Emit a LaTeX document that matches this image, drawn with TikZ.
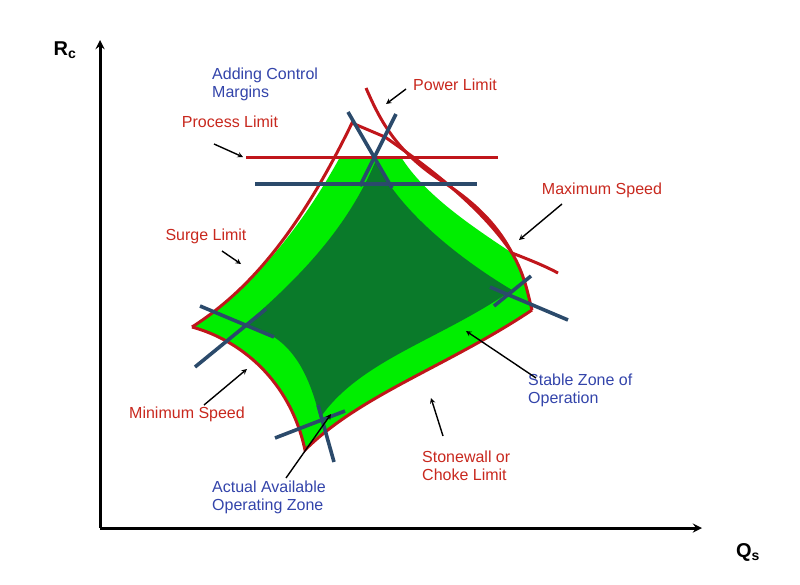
\documentclass[tikz,border=0pt]{standalone}
\usepackage{fontspec}
\setmainfont{Liberation Sans}
\usetikzlibrary{arrows}
\definecolor{limitred}{HTML}{C0161B}
\definecolor{notered}{HTML}{C8281E}
\definecolor{noteblue}{HTML}{3344AA}
\definecolor{marginblue}{HTML}{2B4A6B}
\definecolor{lightzone}{HTML}{00EE00}
\definecolor{darkzone}{HTML}{0A7A2A}
\begin{document}
\begin{tikzpicture}[x=1pt,y=-1pt,>=stealth,
    redlabel/.style={text=notered,font=\fontsize{16}{18}\selectfont,align=left},
    bluelabel/.style={text=noteblue,font=\fontsize{16}{18}\selectfont,align=left},
    limit/.style={draw=limitred,line width=3pt},
    margin/.style={draw=marginblue,line width=3.6pt},
    pointer/.style={->,line width=1.4pt,black}]
  \useasboundingbox (0,0) rectangle (800,584);
  % axes
  \coordinate (O) at (100,528);
  \coordinate (ytop) at (100,40);
  \coordinate (xend) at (702,528);
  \draw[->,line width=3pt] (O) -- (ytop);
  \draw[->,line width=3pt] (O) -- (xend);
  \node (Rc) at (65,50) {\fontsize{20}{22}\selectfont\bfseries R\textsubscript{c}};
  \node (Qs) at (748,552) {\fontsize{20}{22}\selectfont\bfseries Q\textsubscript{s}};
  % zones
  \fill[lightzone] (340,157) -- (401,157) .. controls (425,195) and (470,225) .. (512,253)
    .. controls (525,275) and (528,295) .. (532,310)
    .. controls (450,365) and (360,395) .. (305,450)
    .. controls (290,380) and (240,340) .. (192,327)
    .. controls (250,290) and (300,230) .. cycle;
  \fill[darkzone] (376,160) .. controls (392,200) and (445,250) .. (512,290)
    .. controls (440,340) and (360,360) .. (320,418)
    .. controls (308,370) and (290,335) .. (245,325)
    .. controls (290,285) and (345,235) .. cycle;
  % red outline
  \draw[limit] (192,327) .. controls (250,290) and (300,230) .. (352,123)
    -- (385,137) .. controls (425,165) and (480,205) .. (512,253)
    .. controls (525,275) and (528,295) .. (532,310);
  \draw[limit] (532,310) .. controls (450,365) and (360,395) .. (305,450)
    .. controls (290,380) and (240,340) .. (192,327);
  \draw[limit] (246,157) -- (498,157);
  \draw[limit] (366,88) .. controls (380,120) and (395,150) .. (440,180)
    .. controls (480,205) and (500,230) .. (512,253)
    .. controls (530,260) and (545,266) .. (558,273);
  % control margins
  \draw[margin] (255,184) -- (477,184);
  \draw[margin] (348,112) -- (392,188);
  \draw[margin] (396,114) -- (360,186);
  \draw[margin] (200,306) -- (274,337);
  \draw[margin] (195,367) -- (266,309);
  \draw[margin] (275,438) -- (345,411);
  \draw[margin] (318,405) -- (334,462);
  \draw[margin] (531,276) -- (494,306);
  \draw[margin] (490,287) -- (568,320);
  % labels
  \node[bluelabel,anchor=north west,inner sep=0] (margins) at (212,68) {Adding Control\\Margins};
  \node[redlabel] (process) at (230,122) {Process Limit};
  \node[redlabel] (power) at (455,85) {Power Limit};
  \node[redlabel] (maxspeed) at (602,190) {Maximum Speed};
  \node[redlabel] (surge) at (206,236) {Surge Limit};
  \node[redlabel] (minspeed) at (187,414) {Minimum Speed};
  \node[bluelabel,anchor=north west,inner sep=0] (stable) at (528,374) {Stable Zone of\\Operation};
  \node[redlabel,anchor=north west,inner sep=0] (stonewall) at (422,451) {Stonewall or\\Choke Limit};
  \node[bluelabel,anchor=north west,inner sep=0] (actual) at (212,481) {Actual Available\\Operating Zone};
  % pointers
  \coordinate (processtip) at (243,157);
  \coordinate (powertip) at (386,104);
  \coordinate (maxtip) at (519,240);
  \coordinate (surgetip) at (241,264);
  \coordinate (mintip) at (247,369);
  \coordinate (stabletip) at (466,331);
  \coordinate (stonetip) at (431,398);
  \coordinate (actualtip) at (331,414);
  \draw[pointer] (214,144) -- (processtip);
  \draw[pointer] (406,89) -- (powertip);
  \draw[pointer] (562,204) -- (maxtip);
  \draw[pointer] (222,251) -- (surgetip);
  \draw[pointer] (204,405) -- (mintip);
  \draw[pointer] (536,378) -- (stabletip);
  \draw[pointer] (443,436) -- (stonetip);
  \draw[pointer] (286,478) -- (actualtip);
\end{tikzpicture}
\end{document}
